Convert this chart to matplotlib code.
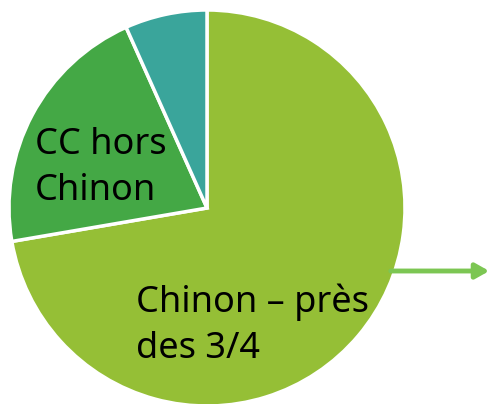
import matplotlib.pyplot as plt

#Shares (clockwise from the top)
labels = ["Chinon", "CC hors Chinon", "Autres"]
shares = [72.3, 21.0, 6.7]
colors = ["#95bf36", "#44a845", "#3aa59b"]

fig = plt.figure(figsize=(4.93, 4.04), dpi=100)
ax = fig.add_axes([0, 0, 1, 1])

ax.pie(shares, colors=colors, startangle=90, counterclock=False,
       center=(207, 196), radius=198,
       wedgeprops={"edgecolor": "white", "linewidth": 2.5})
ax.set_xlim(0, 493)
ax.set_ylim(0, 404)
ax.set_aspect("equal")
ax.axis("off")

#Arrow pointing out of the big slice
ax.annotate("", xy=(492, 133), xytext=(388, 133),
            arrowprops=dict(arrowstyle="-|>,head_length=0.8,head_width=0.45",
                            color="#7cc653", lw=3.5))

ax.text(35, 204, "CC hors\nChinon", fontsize=26, family="Noto Sans",
        va="baseline", ha="left", linespacing=1.36, color="black")
ax.text(136, 46, "Chinon – près\ndes 3/4", fontsize=26, family="Noto Sans",
        va="baseline", ha="left", linespacing=1.36, color="black")

fig.savefig("out.png", dpi=100)
